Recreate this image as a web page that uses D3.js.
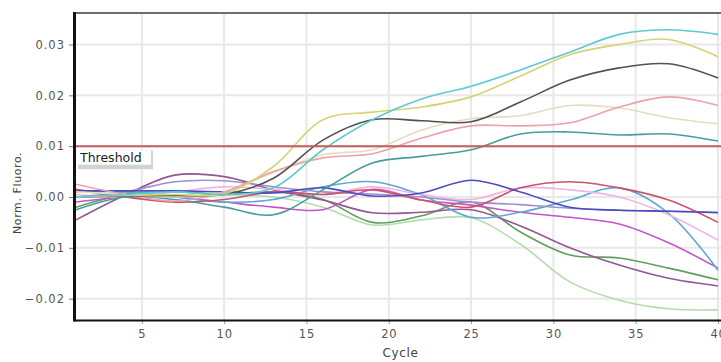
<!DOCTYPE html>
<html>
<head>
<meta charset="utf-8">
<script src="https://cdn.jsdelivr.net/npm/d3@7"></script>
<style>
  body { margin: 0; background: #fff; }
  svg { display: block; }
  text { font-family: "DejaVu Sans", sans-serif; }
</style>
</head>
<body>
<svg id="chart" width="721" height="362"></svg>
<script>
const cycles = [1, 4, 7, 10, 13, 16, 19, 22, 25, 28, 31, 34, 37, 40];

// rising samples
const cyan       = [0.0000, 0.0005, 0.0010, 0.0005, 0.0018, 0.0093, 0.0152, 0.0193, 0.0218, 0.0250, 0.0285, 0.0320, 0.0329, 0.0320];
const yellow     = [0.0000, 0.0003, 0.0005, 0.0006, 0.0060, 0.0152, 0.0167, 0.0177, 0.0197, 0.0238, 0.0280, 0.0300, 0.0310, 0.0276];
const dark       = [0.0000, 0.0002, 0.0003, 0.0005, 0.0037, 0.0112, 0.0152, 0.0150, 0.0148, 0.0187, 0.0230, 0.0254, 0.0262, 0.0234];
const pink       = [0.0025, 0.0005, -0.0008, 0.0010, 0.0050, 0.0077, 0.0085, 0.0116, 0.0140, 0.0140, 0.0146, 0.0177, 0.0197, 0.0180];
const beige      = [0.0010, 0.0005, 0.0000, 0.0010, 0.0048, 0.0083, 0.0093, 0.0132, 0.0154, 0.0160, 0.0180, 0.0175, 0.0156, 0.0144];
const teal       = [-0.0025, 0.0000, -0.0005, -0.0020, -0.0035, 0.0014, 0.0067, 0.0080, 0.0093, 0.0124, 0.0128, 0.0122, 0.0124, 0.0110];

// flat / drifting samples
const blue       = [0.0012, 0.0012, 0.0012, 0.0010, 0.0008, 0.0018, 0.0002, 0.0008, 0.0033, 0.0010, -0.0020, -0.0026, -0.0028, -0.0031];
const lavender   = [0.0000, 0.0010, 0.0030, 0.0032, 0.0020, 0.0010, 0.0006, 0.0000, -0.0010, -0.0015, -0.0022, -0.0026, -0.0028, -0.0030];
const red        = [0.0015, 0.0000, -0.0010, -0.0005, 0.0010, 0.0005, 0.0014, -0.0006, -0.0020, 0.0018, 0.0030, 0.0018, -0.0006, -0.0050];
const lightPink  = [0.0005, 0.0000, 0.0010, 0.0020, 0.0015, 0.0005, 0.0020, 0.0005, -0.0005, 0.0018, 0.0014, 0.0000, -0.0035, -0.0085];
const lightBlue  = [0.0010, 0.0010, 0.0000, -0.0010, -0.0005, 0.0020, 0.0030, 0.0004, -0.0040, -0.0030, -0.0006, 0.0018, -0.0032, -0.0144];
const magenta    = [-0.0010, 0.0000, 0.0000, -0.0010, -0.0020, -0.0025, 0.0015, -0.0006, -0.0016, -0.0030, -0.0040, -0.0053, -0.0090, -0.0140];
const purple     = [-0.0045, 0.0004, 0.0043, 0.0040, 0.0014, -0.0006, -0.0031, -0.0030, -0.0025, -0.0057, -0.0100, -0.0134, -0.0160, -0.0175];
const green      = [-0.0020, 0.0005, 0.0010, 0.0005, 0.0010, -0.0005, -0.0050, -0.0037, -0.0010, -0.0069, -0.0114, -0.0120, -0.0140, -0.0163];
const lightGreen = [0.0000, 0.0005, 0.0010, 0.0005, 0.0000, -0.0020, -0.0055, -0.0045, -0.0041, -0.0093, -0.0167, -0.0203, -0.0220, -0.0222];

const xTicks = [5, 10, 15, 20, 25, 30, 35, 40];
const yTicks = [-0.02, -0.01, 0.00, 0.01, 0.02, 0.03];
const threshold = 0.01;

const series = [
  { values: lightGreen, color: '#b4dcac' },
  { values: green,      color: '#5e9f5a' },
  { values: purple,     color: '#945694' },
  { values: magenta,    color: '#c454c8' },
  { values: lightBlue,  color: '#5aa8d8' },
  { values: lightPink,  color: '#f0b4e6' },
  { values: lavender,   color: '#9c92cc' },
  { values: red,        color: '#d0506a' },
  { values: blue,       color: '#4a4cbe' },
  { values: teal,       color: '#4a9c9c' },
  { values: beige,      color: '#e6dcc0' },
  { values: pink,       color: '#eaa3aa' },
  { values: dark,       color: '#525252' },
  { values: yellow,     color: '#d8d272' },
  { values: cyan,       color: '#5ccad4' }
];

const svg = d3.select('#chart');
const margin = { top: 13, right: 3, bottom: 42, left: 76 };
const width = 721, height = 362;

const x = d3.scaleLinear().domain([1, 40]).range([margin.left, width - margin.right]);
const y = d3.scaleLinear().domain([-0.0242, 0.0362]).range([height - margin.bottom, margin.top]);

// grid
svg.append('g')
  .selectAll('line')
  .data(xTicks)
  .join('line')
  .attr('x1', d => x(d)).attr('x2', d => x(d))
  .attr('y1', margin.top).attr('y2', height - margin.bottom)
  .attr('stroke', '#e8e8e8').attr('stroke-width', 2);

svg.append('g')
  .selectAll('line')
  .data(yTicks)
  .join('line')
  .attr('x1', margin.left).attr('x2', width)
  .attr('y1', d => y(d)).attr('y2', d => y(d))
  .attr('stroke', '#e8e8e8').attr('stroke-width', 2);

// curves
const line = d3.line()
  .x((d, i) => x(cycles[i]))
  .y(d => y(d))
  .curve(d3.curveCatmullRom.alpha(0.5));

svg.append('g')
  .selectAll('path')
  .data(series)
  .join('path')
  .attr('fill', 'none')
  .attr('stroke', d => d.color)
  .attr('stroke-width', 1.6)
  .attr('d', d => line(d.values));

// threshold
svg.append('line')
  .attr('x1', margin.left).attr('x2', width)
  .attr('y1', y(threshold)).attr('y2', y(threshold))
  .attr('stroke', '#c85c5c').attr('stroke-width', 2);

const label = svg.append('g').attr('transform', 'translate(78,' + (y(threshold) + 4) + ')');
label.append('rect').attr('x', 0).attr('y', 0).attr('width', 75).attr('height', 19).attr('fill', '#d2d2d2');
label.append('rect').attr('x', 0).attr('y', 0).attr('width', 73).attr('height', 14.5).attr('fill', '#fff');
label.append('text')
  .attr('x', 2).attr('y', 12)
  .attr('font-size', 12.5)
  .attr('fill', '#222')
  .text('Threshold');

// axes
const yAxis = svg.append('g')
  .attr('transform', 'translate(' + (margin.left - 2) + ',0)')
  .call(d3.axisLeft(y).tickValues(yTicks).tickSize(5).tickPadding(4).tickFormat(d3.format('.2f')));
yAxis.select('.domain').remove();
yAxis.selectAll('line').attr('stroke', '#777');
yAxis.selectAll('text').attr('font-size', 11.5).attr('fill', '#555').attr('letter-spacing', 1)
  .attr('font-family', '"DejaVu Sans", sans-serif');

const xAxis = svg.append('g')
  .attr('transform', 'translate(0,' + (height - margin.bottom) + ')')
  .call(d3.axisBottom(x).tickValues(xTicks).tickSize(4).tickPadding(6));
xAxis.select('.domain').remove();
xAxis.selectAll('line').attr('stroke', '#999');
xAxis.selectAll('text').attr('font-size', 11.5).attr('fill', '#555').attr('letter-spacing', 0.8)
  .attr('font-family', '"DejaVu Sans", sans-serif');

// frame
svg.append('line')
  .attr('x1', margin.left - 2).attr('x2', width)
  .attr('y1', margin.top).attr('y2', margin.top)
  .attr('stroke', '#6e6e6e').attr('stroke-width', 2);
svg.append('line')
  .attr('x1', margin.left - 2).attr('x2', width)
  .attr('y1', height - margin.bottom + 0.5).attr('y2', height - margin.bottom + 0.5)
  .attr('stroke', '#111').attr('stroke-width', 2);
svg.append('line')
  .attr('x1', margin.left - 1.5).attr('x2', margin.left - 1.5)
  .attr('y1', margin.top - 1).attr('y2', height - margin.bottom + 1.5)
  .attr('stroke', '#111').attr('stroke-width', 3);

// titles
svg.append('text')
  .attr('x', (margin.left + width) / 2 + 2).attr('y', 357)
  .attr('text-anchor', 'middle')
  .attr('font-size', 12).attr('fill', '#444').attr('letter-spacing', 0.6)
  .text('Cycle');

svg.append('text')
  .attr('transform', 'translate(21,' + y(0.0008) + ') rotate(-90)')
  .attr('text-anchor', 'middle')
  .attr('font-size', 11).attr('fill', '#444').attr('letter-spacing', 0.6)
  .text('Norm. Fluoro.');
</script>
</body>
</html>
